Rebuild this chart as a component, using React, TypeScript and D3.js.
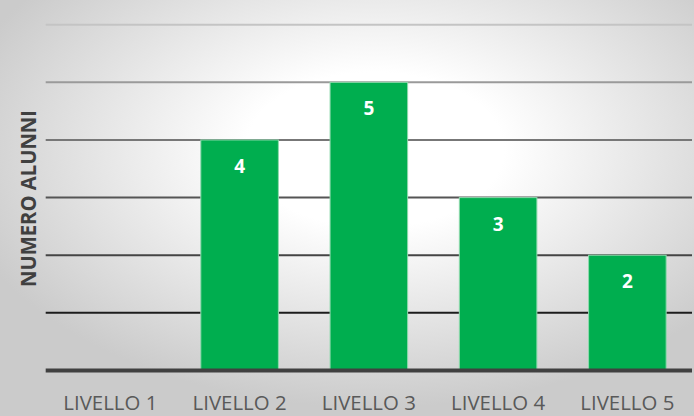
import React from "react";
import * as d3 from "d3";

const categories = ["LIVELLO 1", "LIVELLO 2", "LIVELLO 3", "LIVELLO 4", "LIVELLO 5"];
const values = [0, 4, 5, 3, 2];
const gridTicks = [1, 2, 3, 4, 5, 6];
const gridColors = ["#1c1c1c", "#444444", "#555555", "#777777", "#9a9a9a", "#c4c4c4"];
const yTitle = "NUMERO ALUNNI";

const W = 694;
const H = 416;

export default function App() {
  const x = d3.scaleBand<string>().domain(categories).range([45.7, 692]).paddingInner(0.4).paddingOuter(0.2);
  const y = d3.scaleLinear().domain([0, 6]).range([370.5, 24.7]);

  return (
    <svg width={W} height={H} style={{ position: "absolute", left: 0, top: 0 }}>
      <defs>
        <radialGradient id="bg" cx="0.54" cy="0.36" r="0.62" gradientUnits="objectBoundingBox">
          <stop offset="0" stopColor="#ffffff" />
          <stop offset="0.3" stopColor="#ffffff" />
          <stop offset="1" stopColor="#cbcbcb" />
        </radialGradient>
      </defs>
      <rect x={0} y={0} width={W} height={H} fill="url(#bg)" />
      {gridTicks.map((t, i) => (
        <line key={t} x1={45.7} x2={692} y1={y(t)} y2={y(t)} stroke={gridColors[i]} strokeWidth={2} />
      ))}
      {categories.map((c, i) =>
        values[i] > 0 ? (
          <g key={c}>
            <rect
              x={x(c)}
              y={y(values[i])}
              width={x.bandwidth()}
              height={y(0) - y(values[i])}
              fill="#00ae4f"
              stroke="#8fd9ad"
              strokeWidth={1}
            />
            <text
              x={(x(c) as number) + x.bandwidth() / 2}
              y={y(values[i]) + 26}
              textAnchor="middle"
              dominantBaseline="central"
              fill="#ffffff"
              fontFamily="'Open Sans', sans-serif"
              fontWeight={700}
              fontSize={19}
            >
              {values[i]}
            </text>
          </g>
        ) : null
      )}
      <line x1={45.7} x2={692} y1={y(0)} y2={y(0)} stroke="#404040" strokeWidth={4} />
      {categories.map((c) => (
        <text
          key={c}
          x={(x(c) as number) + x.bandwidth() / 2}
          y={402}
          textAnchor="middle"
          dominantBaseline="central"
          fill="#595959"
          fontFamily="'Open Sans', sans-serif"
          fontSize={20.5}
          textLength={94}
          lengthAdjust="spacingAndGlyphs"
        >
          {c}
        </text>
      ))}
      <text
        transform={`translate(27.5, 198.5) rotate(-90)`}
        textAnchor="middle"
        dominantBaseline="central"
        fill="#404040"
        fontFamily="'Open Sans', sans-serif"
        fontWeight={700}
        fontSize={20.5}
        textLength={177}
        lengthAdjust="spacingAndGlyphs"
      >
        {yTitle}
      </text>
    </svg>
  );
}
